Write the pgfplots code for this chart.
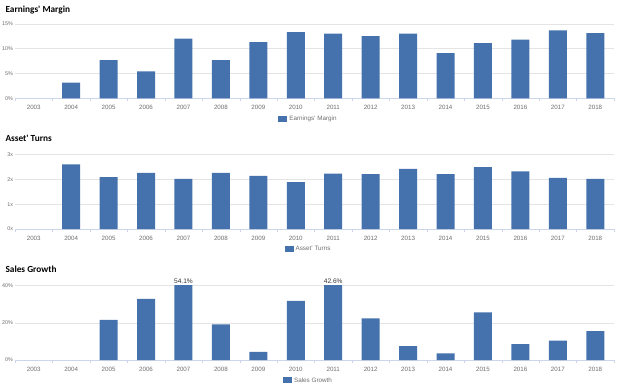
\documentclass[border=0pt]{standalone}
\usepackage{fontspec}
\setmainfont{Liberation Sans}
\newfontfamily\titlefont{Carlito}
\usepackage{pgfplots}
\pgfplotsset{compat=1.18}
\definecolor{barblue}{RGB}{69,113,172}
\definecolor{hcgrid}{RGB}{228,228,228}
\definecolor{hcaxis}{RGB}{204,214,235}
\definecolor{hclabel}{RGB}{110,110,110}
\pgfplotsset{hcstyle/.style={
  scale only axis, width=599pt, height=74.5pt,
  xmin=-0.5, xmax=15.5, ymin=0,
  axis x line*=bottom, axis y line*=left,
  x axis line style={draw=hcaxis, -},
  y axis line style={draw=none},
  xtick={0,...,15},
  xticklabels={2003,2004,2005,2006,2007,2008,2009,2010,2011,2012,2013,2014,2015,2016,2017,2018},
  minor xtick={-0.5,0.5,...,15.5},
  major tick length=0pt, minor tick length=3pt, tick align=outside,
  xtick style={draw=hcaxis}, ytick style={draw=none},
  ymajorgrids, major grid style={draw=hcgrid, line width=0.5pt},
  xticklabel style={font=\fontsize{6.2}{7}\selectfont, text=hclabel, yshift=-3.5pt},
  yticklabel style={font=\fontsize{5.4}{6}\selectfont, text=hclabel, xshift=1.5pt},
  /pgf/number format/assume math mode=true,
  ybar, bar width=18pt,
  clip mode=individual,
  legend style={at={(0.49,-0.275)}, anchor=center, draw=none, fill=none,
    font=\fontsize{6.3}{7}\selectfont, text=hclabel, inner sep=0pt},
  legend image code/.code={\fill[barblue] (0pt,-3pt) rectangle (9pt,3pt);},
}}
\begin{document}
\begin{tikzpicture}
\path[use as bounding box] (0,0) rectangle (624pt,-391pt);
\node[anchor=base west, font=\titlefont\bfseries\fontsize{9.3}{11}\selectfont] at (2pt,-12pt) {Earnings' Margin};
\node[anchor=base west, font=\titlefont\bfseries\fontsize{9.3}{11}\selectfont] at (2pt,-141pt) {Asset' Turns};
\node[anchor=base west, font=\titlefont\bfseries\fontsize{9.3}{11}\selectfont] at (2pt,-272pt) {Sales Growth};

\begin{axis}[hcstyle, at={(15pt,-98.3pt)}, anchor=south west,
  ymax=15, ytick={0,5,10,15}, yticklabel={\pgfmathprintnumber{\tick}\%}]
\addplot[fill=barblue, draw=none] coordinates {
(1,3.15) (2,7.7) (3,5.4) (4,12.0) (5,7.7) (6,11.3) (7,13.3)
(8,13.0) (9,12.5) (10,13.0) (11,9.1) (12,11.1) (13,11.8) (14,13.7) (15,13.1)};
\addlegendentry{Earnings' Margin}
\end{axis}

\begin{axis}[hcstyle, at={(15pt,-229pt)}, anchor=south west,
  ymax=3, ytick={0,1,2,3}, yticklabel={\pgfmathprintnumber{\tick}x}]
\addplot[fill=barblue, draw=none] coordinates {
(1,2.60) (2,2.09) (3,2.26) (4,2.02) (5,2.26) (6,2.14) (7,1.89)
(8,2.23) (9,2.21) (10,2.42) (11,2.21) (12,2.49) (13,2.32) (14,2.06) (15,2.02)};
\addlegendentry{Asset' Turns}
\end{axis}

\begin{axis}[hcstyle, at={(15pt,-360pt)}, anchor=south west,
  ymax=40, ytick={0,20,40}, yticklabel={\pgfmathprintnumber{\tick}\%}]
\addplot[fill=barblue, draw=none] coordinates {
(2,21.6) (3,32.8) (4,54.1) (5,19.1) (6,4.3) (7,31.7)
(8,42.6) (9,22.3) (10,7.4) (11,3.6) (12,25.6) (13,8.5) (14,10.4) (15,15.5)};
\addlegendentry{Sales Growth}
\node[anchor=base, yshift=2pt, font=\fontsize{6.6}{7}\selectfont, text=black!80] at (axis cs:4,40) {54.1\%};
\node[anchor=base, yshift=2pt, font=\fontsize{6.6}{7}\selectfont, text=black!80] at (axis cs:8,40) {42.6\%};
\end{axis}
\end{tikzpicture}
\end{document}
